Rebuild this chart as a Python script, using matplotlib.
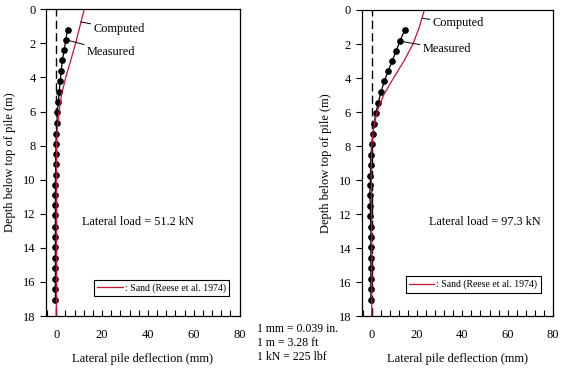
import matplotlib
matplotlib.use("Agg")
import matplotlib.pyplot as plt
from matplotlib.ticker import MultipleLocator

plt.rcParams['font.family'] = ['Liberation Serif', 'DejaVu Serif']
plt.rcParams['font.size'] = 9

# measured depths (m), same for both tests
depth_meas = [1.2, 1.8, 2.4, 3.0, 3.6, 4.2, 4.85, 5.45, 6.05, 6.7, 7.3, 7.9, 8.5,
              9.1, 9.75, 10.3, 10.9, 11.5, 12.1, 12.75, 13.35, 13.95, 14.6, 15.2,
              15.8, 16.4, 17.05]
# measured deflection (mm)
defl_meas_51 = [4.9, 4.1, 3.5, 2.6, 2.2, 1.7, 1.3, 0.9, 0.4, 0.3, 0.0, -0.1, -0.2,
                -0.3, -0.3, -0.4, -0.4, -0.4, -0.4, -0.4, -0.4, -0.4, -0.4, -0.4,
                -0.4, -0.4, -0.4]
defl_meas_97 = [14.5, 12.5, 10.8, 9.0, 7.2, 5.5, 4.0, 2.9, 1.8, 1.0, 0.6, 0.0, -0.4,
                -0.5, -0.6, -0.7, -0.9, -0.6, -0.6, -0.4, -0.4, -0.4, -0.4, -0.4,
                -0.4, -0.4, -0.4]

# computed curves (Reese et al. 1974 sand)
depth_comp = [0, 1, 2, 3, 4, 5, 6, 7, 8, 9, 10, 12, 14, 16, 18]
defl_comp_51 = [12.2, 10.3, 8.4, 6.3, 4.1, 2.3, 1.2, 0.4, 0.1, 0.0, 0.0, 0.0, 0.0, 0.0, 0.0]
defl_comp_97 = [23.2, 21.0, 18.2, 14.2, 9.6, 5.2, 2.3, 0.7, 0.0, -0.2, -0.2, -0.1, 0.0, 0.0, 0.0]

loads = ["Lateral load = 51.2 kN", "Lateral load = 97.3 kN"]

red = '#cc1133'

fig = plt.figure(figsize=(5.65, 3.69), dpi=100)
ax1 = fig.add_axes([0.0814, 0.1436, 0.3425, 0.8312])
ax2 = fig.add_axes([0.640, 0.1436, 0.3386, 0.8293])

panels = [
    (ax1, defl_meas_51, defl_comp_51, loads[0], (35.8, 12.5),
     (10.7, 0.74), (16.2, 1.17), (4.5, 1.8), (13.3, 2.49), (0.946, 0.065)),
    (ax2, defl_meas_97, defl_comp_97, loads[1], (50.0, 12.45),
     (22.4, 0.49), (26.9, 0.78), (13.6, 1.86), (22.4, 2.31), (0.936, 0.076)),
]

for ax, meas, comp, load, loadpos, cpt, ctxt, mpt, mtxt, legpos in panels:
    ax.axvline(0, color='black', lw=1.0, ls=(0, (6, 3)))
    ax.plot(meas, depth_meas, color='black', lw=0.9, marker='o', ms=3.8)
    ax.plot(comp, depth_comp, color=red, lw=0.9,
            label=': Sand (Reese et al. 1974)')
    ax.set_xlim(-4.5, 80)
    ax.set_ylim(18, 0)
    ax.xaxis.set_major_locator(MultipleLocator(20))
    ax.xaxis.set_minor_locator(MultipleLocator(4))
    ax.yaxis.set_major_locator(MultipleLocator(2))
    ax.tick_params(axis='x', which='both', direction='in', length=4, width=0.8, pad=9)
    ax.tick_params(axis='y', direction='out', length=4, width=0.8)
    for s in ax.spines.values():
        s.set_linewidth(0.9)
    ax.set_xlabel('Lateral pile deflection (mm)', labelpad=9)
    ax.set_ylabel('Depth below top of pile (m)', labelpad=5)
    ax.text(loadpos[0], loadpos[1], load, ha='center', va='center', fontsize=8.8)
    ax.annotate('Computed', xy=cpt, xytext=ctxt, va='center', ha='left',
                fontsize=8.8,
                arrowprops=dict(arrowstyle='-', lw=0.7, color='black',
                                shrinkA=0, shrinkB=0))
    ax.annotate('Measured', xy=mpt, xytext=mtxt, va='center', ha='left',
                fontsize=8.8,
                arrowprops=dict(arrowstyle='-', lw=0.7, color='black',
                                shrinkA=0, shrinkB=0))
    leg = ax.legend(loc='lower right', bbox_to_anchor=legpos, fontsize=7,
                    fancybox=False, edgecolor='black', framealpha=1,
                    handlelength=2.6, borderpad=0.35, handletextpad=0.2,
                    borderaxespad=0)
    leg.get_frame().set_linewidth(0.8)

fig.text(0.455, 0.125, '1 mm = 0.039 in.\n1 m = 3.28 ft\n1 kN = 225 lbf',
         ha='left', va='top', linespacing=1.25, fontsize=8.5)

fig.savefig('out.png', dpi=100)
